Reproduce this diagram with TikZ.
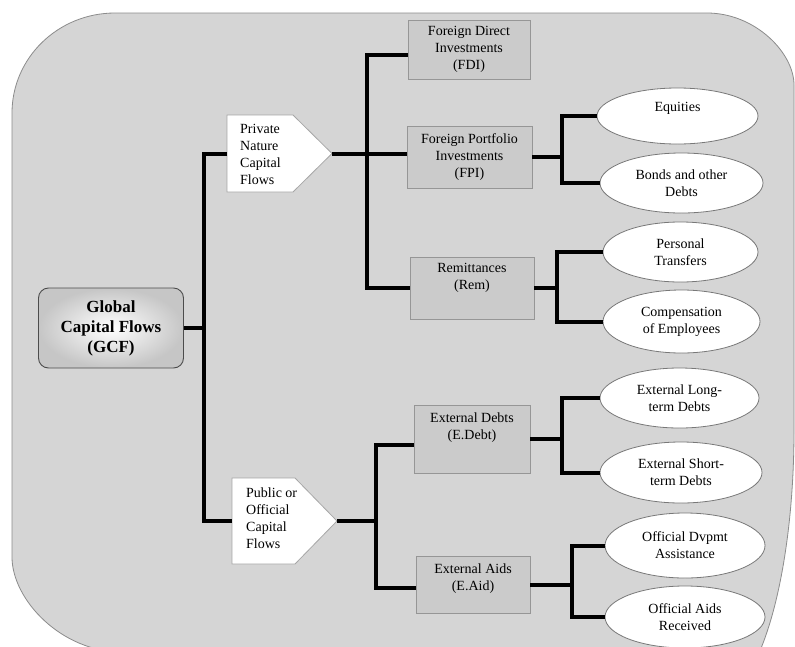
\documentclass[tikz,border=0pt]{standalone}
\usepackage{fontspec}
\setmainfont{Liberation Serif}
\usetikzlibrary{shapes.geometric,calc}
\definecolor{bgfill}{RGB}{213,213,213}
\definecolor{bgline}{RGB}{140,140,140}
\definecolor{boxfill}{RGB}{203,203,203}
\definecolor{boxline}{RGB}{150,150,150}
\definecolor{ellline}{RGB}{120,120,120}
\begin{document}
\begin{tikzpicture}[x=1pt,y=-1pt,
  txt/.style={font=\fontsize{14}{17}\selectfont, align=center},
  conn/.style={line width=4pt, draw=black},
  boxnode/.style={txt, rectangle, draw=boxline, fill=boxfill, line width=0.8pt, inner sep=0pt},
  ellnode/.style={txt, ellipse, draw=ellline, fill=white, line width=0.8pt, inner sep=0pt},
  arrowshape/.style={draw=black!35, fill=white, line width=0.8pt},
  rootnode/.style={rectangle, rounded corners=10pt, draw=black!70, line width=0.9pt,
    inner color=white, outer color=gray!45, inner sep=0pt,
    font=\bfseries\fontsize{17}{20}\selectfont, align=center}
]
\useasboundingbox (0,0) rectangle (795,646);
\fill[white] (0,0) rectangle (795,646);
% background panel
\draw[fill=bgfill, draw=bgline, line width=0.8pt]
  (12,113) .. controls (12,57.8) and (58.1,13) .. (115,13)
  -- (707,13) .. controls (755,13) and (794,52.7) .. (794,85)
  -- (794,430) .. controls (794,579) and (758,700) .. (714,700)
  -- (122,700) -- (122,652)
  .. controls (61.3,652) and (12,599.6) .. (12,557) -- cycle;

% root
\node[rootnode, minimum width=145pt, minimum height=80pt] (gcf) at (111,328)
  {Global\\Capital Flows\\(GCF)};

% arrow-shaped nodes
\draw[arrowshape] (227,115) -- (293,115) -- (332,153.5) -- (293,192) -- (227,192) -- cycle;
\coordinate (privin) at (227,153.5);
\coordinate (privtip) at (332,153.5);
\node[txt, align=left, anchor=west, inner sep=0pt] (privtxt) at (240,154.5)
  {Private\\Nature\\Capital\\Flows};

\draw[arrowshape] (232,478) -- (295,478) -- (337,521) -- (295,564) -- (232,564) -- cycle;
\coordinate (pubin) at (232,521);
\coordinate (pubtip) at (337,521);
\node[txt, align=left, anchor=west, inner sep=0pt] (pubtxt) at (246,518.5)
  {Public or\\Official\\Capital\\Flows};

% second level boxes
\node[boxnode, minimum width=122pt, minimum height=59pt] (fdi) at (469,49.5)
  {Foreign Direct\\Investments\\(FDI)};
\node[boxnode, minimum width=125pt, minimum height=62pt] (fpi) at (469.5,157)
  {Foreign Portfolio\\Investments\\(FPI)};
\node[boxnode, minimum width=124pt, minimum height=62pt,
  label={[txt, yshift=10pt]center:Remittances\\(Rem)}] (rem) at (472,288) {};
\node[boxnode, minimum width=116pt, minimum height=68pt,
  label={[txt, yshift=11pt]center:External Debts\\(E.Debt)}] (ed) at (472,439) {};
\node[boxnode, minimum width=114pt, minimum height=57pt,
  label={[txt, yshift=5.5pt]center:External Aids\\(E.Aid)}] (ea) at (473,584.5) {};

% third level ellipses
\node[ellnode, minimum width=161pt, minimum height=56pt,
  label={[txt, yshift=8pt]center:Equities}] (eq) at (677.5,116) {};
\node[ellnode, minimum width=163pt, minimum height=60pt] (bo) at (681.5,183)
  {Bonds and other\\Debts};
\node[ellnode, minimum width=155pt, minimum height=60pt] (pt) at (680.5,252)
  {Personal\\Transfers};
\node[ellnode, minimum width=157pt, minimum height=63pt] (ce) at (681.5,321.5)
  {Compensation\\of Employees};
\node[ellnode, minimum width=159pt, minimum height=60pt] (el) at (679.5,398)
  {External Long-\\term Debts};
\node[ellnode, minimum width=162pt, minimum height=61pt] (es) at (681,472.5)
  {External Short-\\term Debts};
\node[ellnode, minimum width=160pt, minimum height=65pt] (od) at (685,545.5)
  {Official Dvpmt\\Assistance};
\node[ellnode, minimum width=160pt, minimum height=62pt] (oa) at (685,617)
  {Official Aids\\Received};

% bar positions
\coordinate (m) at (204,0);
\coordinate (b0) at (367,0);
\coordinate (b5) at (376,0);
\coordinate (b1) at (562,0);
\coordinate (b2) at (557,0);
\coordinate (b3) at (562,0);
\coordinate (b4) at (572,0);
\coordinate (fdiin) at ($(fdi.north west)!0.59!(fdi.south west)$);
\coordinate (edin) at ($(ed.north west)!0.59!(ed.south west)$);
\coordinate (eain) at ($(ea.north west)!0.56!(ea.south west)$);

% connectors
\draw[conn] (gcf.east) -- (gcf.east -| m);
\draw[conn] (privin) -- (privin -| m) -- (pubin -| m) -- (pubin);
\draw[conn] (privtip) -- (privtip -| fpi.west);
\draw[conn] (fdiin) -- (fdiin -| b0) -- (rem.west -| b0) -- (rem.west);
\draw[conn] (pubtip) -- (pubtip -| b5);
\draw[conn] (edin) -- (edin -| b5) -- (eain -| b5) -- (eain);

\draw[conn] (fpi.east) -- (fpi.east -| b1);
\draw[conn] (eq.west) -- (eq.west -| b1) -- (bo.west -| b1) -- (bo.west);
\draw[conn] (rem.east) -- (rem.east -| b2);
\draw[conn] (pt.west) -- (pt.west -| b2) -- (ce.west -| b2) -- (ce.west);
\draw[conn] (ed.east) -- (ed.east -| b3);
\draw[conn] (el.west) -- (el.west -| b3) -- (es.west -| b3) -- (es.west);
\draw[conn] (ea.east) -- (ea.east -| b4);
\draw[conn] (od.west) -- (od.west -| b4) -- (oa.west -| b4) -- (oa.west);
\end{tikzpicture}
\end{document}
